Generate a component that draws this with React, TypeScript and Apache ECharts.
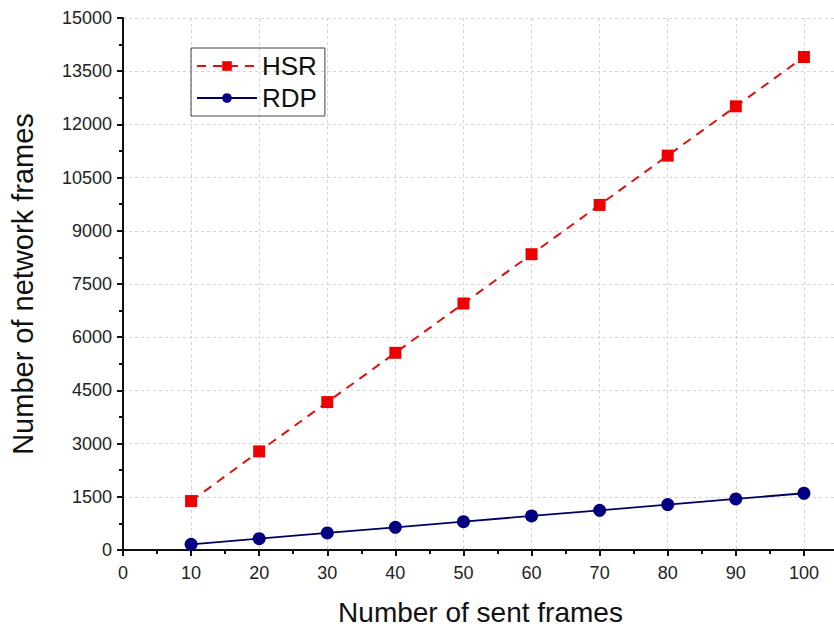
import React, { useEffect, useRef } from "react";
import * as echarts from "echarts";

const sentFrames = [10, 20, 30, 40, 50, 60, 70, 80, 90, 100];
const hsrValues = [1380, 2780, 4170, 5560, 6950, 8340, 9730, 11120, 12510, 13900];
const rdpValues = [160, 320, 480, 640, 800, 960, 1120, 1280, 1440, 1600];
const seriesNames = ["HSR", "RDP"];
const xTitle = "Number of sent frames";
const yTitle = "Number of network frames";

export default function App() {
  const ref = useRef<HTMLDivElement>(null);
  useEffect(() => {
    document.body.style.margin = "0";
    const chart = echarts.init(ref.current!, null, { renderer: "svg" });
    const font = "Liberation Sans, Arial, sans-serif";
    chart.setOption({
      animation: false,
      backgroundColor: "#ffffff",
      textStyle: { fontFamily: font },
      grid: {
        left: 123,
        top: 18,
        right: -38,
        bottom: 82,
        containLabel: false,
        outerBoundsMode: "none",
      },
      legend: {
        orient: "vertical",
        left: 191,
        top: 48,
        data: seriesNames,
        borderColor: "#444",
        borderWidth: 1,
        borderRadius: 0,
        padding: [5, 8, 5, 5],
        itemGap: 6,
        itemWidth: 60,
        itemHeight: 12,
        textStyle: { fontSize: 26, color: "#111", fontFamily: font },
      },
      xAxis: {
        type: "value",
        min: 0,
        max: 110,
        interval: 10,
        name: xTitle,
        nameLocation: "middle",
        nameGap: 48,
        nameTextStyle: { fontSize: 28, color: "#111", fontFamily: font, padding: [0, 34, 0, 0] },
        axisLine: { show: true, lineStyle: { color: "#111", width: 2 } },
        axisTick: { show: true, length: 6, lineStyle: { color: "#111", width: 2 } },
        minorTick: { show: true, splitNumber: 2, length: 4, lineStyle: { color: "#111", width: 2 } },
        axisLabel: {
          fontSize: 18,
          color: "#222",
          margin: 14,
          fontFamily: font,
          formatter: (v: number) => (v <= 100 ? String(v) : ""),
        },
        splitLine: { show: true, lineStyle: { color: "#d4d4d4", type: [3, 3], width: 1 } },
      },
      yAxis: {
        type: "value",
        min: 0,
        max: 15000,
        interval: 1500,
        name: yTitle,
        nameLocation: "middle",
        nameGap: 86,
        nameTextStyle: { fontSize: 29, color: "#111", fontFamily: font },
        axisLine: { show: true, lineStyle: { color: "#111", width: 2 } },
        axisTick: { show: true, length: 6, lineStyle: { color: "#111", width: 2 } },
        minorTick: { show: true, splitNumber: 2, length: 4, lineStyle: { color: "#111", width: 2 } },
        axisLabel: {
          fontSize: 18,
          color: "#222",
          margin: 11,
          fontFamily: font,
          formatter: (v: number) => String(v),
        },
        splitLine: { show: true, lineStyle: { color: "#d4d4d4", type: [3, 3], width: 1 } },
      },
      series: [
        {
          name: seriesNames[0],
          type: "line",
          data: sentFrames.map((x, i) => [x, hsrValues[i]]),
          symbol: "rect",
          symbolSize: 12,
          itemStyle: { color: "#ee0000" },
          lineStyle: { color: "#dd1111", width: 2, type: [9, 7] },
        },
        {
          name: seriesNames[1],
          type: "line",
          data: sentFrames.map((x, i) => [x, rdpValues[i]]),
          symbol: "circle",
          symbolSize: 13,
          itemStyle: { color: "#000080" },
          lineStyle: { color: "#000060", width: 1.8 },
        },
      ],
    });
    return () => chart.dispose();
  }, []);
  return <div ref={ref} style={{ width: 834, height: 632 }} />;
}
